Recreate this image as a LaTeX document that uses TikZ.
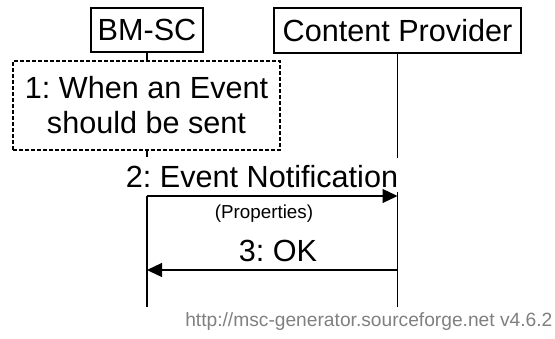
\documentclass[tikz,border=0pt]{standalone}
\usepackage{fontspec}
\setmainfont{Liberation Sans}
\usetikzlibrary{arrows.meta}
\frenchspacing

\begin{document}
\begin{tikzpicture}[x=0.5pt,y=-0.5pt,line width=0.6pt]
        \useasboundingbox (0,0) rectangle (555,338);
        \begin{scope}[every node/.style={draw,inner sep=0pt,font=\fontsize{15.3}{17.5}\selectfont}]
        \node[minimum width=56pt,minimum height=22pt] (bmsc) at (147,30) {BM-SC};
        \node[minimum width=123.5pt,minimum height=22.5pt] (cp) at (397.5,30.5) {Content Provider};
        \node[dash pattern=on 2pt off 1pt,minimum width=133.5pt,minimum height=44.5pt,align=center] (when) at (146.5,105.5) {1: When an Event\\should be sent};
        \end{scope}
        \coordinate (bmgap) at (147,157);
        \coordinate (bmnote) at (147,196);
        \coordinate (bmok) at (147,270);
        \coordinate (bmend) at (147,307);
        \coordinate (cpgap) at (397.5,158);
        \coordinate (cpres) at (397.5,192);
        \coordinate (cpnote) at (397.5,196);
        \coordinate (cpok) at (397.5,270);
        \coordinate (cpend) at (397.5,307);
        \begin{scope}[every node/.style={anchor=base,inner sep=0pt,font=\fontsize{15.3}{17.5}\selectfont}]
        \node (evtlbl) at (262,187) {2: Event Notification};
        \node[font=\fontsize{9.4}{11}\selectfont] (proplbl) at (264,218) {(Properties)};
        \node (oklbl) at (278,261) {3: OK};
        \node[anchor=base east,text=gray,font=\fontsize{9.6}{11}\selectfont] (url) at (553,326) {http://msc-generator.sourceforge.net v4.6.2};
        \end{scope}
        \begin{scope}[every edge/.style={draw=black,line width=0.6pt}]
        \path (bmsc.south) edge (bmsc.south |- when.north)
              (bmsc.south |- when.south) edge (bmgap)
              (bmnote) edge (bmend)
              (cp.south) edge (cpgap)
              (cpres) edge (cpend);
        \end{scope}
        \begin{scope}[every edge/.style={draw=black,line width=0.6pt,-{Triangle[length=7.5pt,width=7pt]}}]
        \path (bmnote) edge (cpnote)
              (cpok) edge (bmok);
        \end{scope}
\end{tikzpicture}
\end{document}
